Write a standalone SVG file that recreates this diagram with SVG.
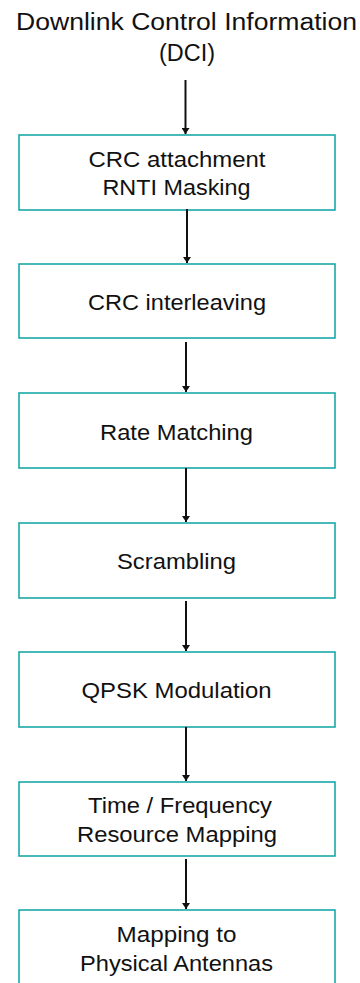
<svg xmlns="http://www.w3.org/2000/svg" width="360" height="983" viewBox="0 0 360 983">
  <style>
    .box { fill: #ffffff; stroke: #1aa8a8; stroke-width: 1.6; }
    .label { font-family: "Liberation Sans", Arial, sans-serif; font-size: 21.5px; fill: #111111; text-anchor: middle; }
    .title { font-family: "Liberation Sans", Arial, sans-serif; font-size: 23.5px; fill: #111111; text-anchor: middle; }
    .conn { stroke: #111111; stroke-width: 2; fill: none; marker-end: url(#arrow); }
  </style>
  <defs>
    <marker id="arrow" viewBox="0 0 6 8" refX="6" refY="4" markerWidth="3" markerHeight="4" orient="auto" markerUnits="strokeWidth">
      <path d="M0,0 L6,4 L0,8 Z" fill="#111111"/>
    </marker>
  </defs>
  <rect width="360" height="983" fill="#ffffff"/>

  <g id="dci">
    <text class="title" x="186.5" y="30" textLength="341" lengthAdjust="spacingAndGlyphs">Downlink Control Information</text>
    <text class="title" x="187" y="61" textLength="56" lengthAdjust="spacingAndGlyphs">(DCI)</text>
  </g>

  <g id="crc-attachment">
    <rect class="box" x="19" y="135" width="316" height="75"/>
    <text class="label" x="177" y="166.5" textLength="177" lengthAdjust="spacingAndGlyphs">CRC attachment</text>
    <text class="label" x="176.5" y="195" textLength="148" lengthAdjust="spacingAndGlyphs">RNTI Masking</text>
  </g>

  <g id="crc-interleaving">
    <rect class="box" x="19" y="264" width="316" height="74"/>
    <text class="label" x="177" y="310" textLength="178" lengthAdjust="spacingAndGlyphs">CRC interleaving</text>
  </g>

  <g id="rate-matching">
    <rect class="box" x="19" y="393" width="316" height="75"/>
    <text class="label" x="176.5" y="440" textLength="153" lengthAdjust="spacingAndGlyphs">Rate Matching</text>
  </g>

  <g id="scrambling">
    <rect class="box" x="19" y="523" width="316" height="75"/>
    <text class="label" x="176.5" y="569" textLength="119" lengthAdjust="spacingAndGlyphs">Scrambling</text>
  </g>

  <g id="qpsk-modulation">
    <rect class="box" x="19" y="652" width="316" height="75"/>
    <text class="label" x="176.5" y="698" textLength="190" lengthAdjust="spacingAndGlyphs">QPSK Modulation</text>
  </g>

  <g id="resource-mapping">
    <rect class="box" x="19" y="782" width="316" height="74"/>
    <text class="label" x="180" y="813" textLength="184" lengthAdjust="spacingAndGlyphs">Time / Frequency</text>
    <text class="label" x="177" y="842" textLength="200" lengthAdjust="spacingAndGlyphs">Resource Mapping</text>
  </g>

  <g id="antenna-mapping">
    <rect class="box" x="19" y="910" width="316" height="90"/>
    <text class="label" x="176.5" y="941.5" textLength="120" lengthAdjust="spacingAndGlyphs">Mapping to</text>
    <text class="label" x="176.5" y="971" textLength="193" lengthAdjust="spacingAndGlyphs">Physical Antennas</text>
  </g>

  <g id="connectors">
    <line class="conn" x1="185.5" y1="80" x2="185.5" y2="134"/>
    <line class="conn" x1="187" y1="209" x2="187" y2="263"/>
    <line class="conn" x1="186" y1="342" x2="186" y2="392"/>
    <line class="conn" x1="186" y1="468" x2="186" y2="522"/>
    <line class="conn" x1="186" y1="601" x2="186" y2="651"/>
    <line class="conn" x1="186" y1="727" x2="186" y2="781"/>
    <line class="conn" x1="186" y1="859" x2="186" y2="909"/>
  </g>
</svg>
